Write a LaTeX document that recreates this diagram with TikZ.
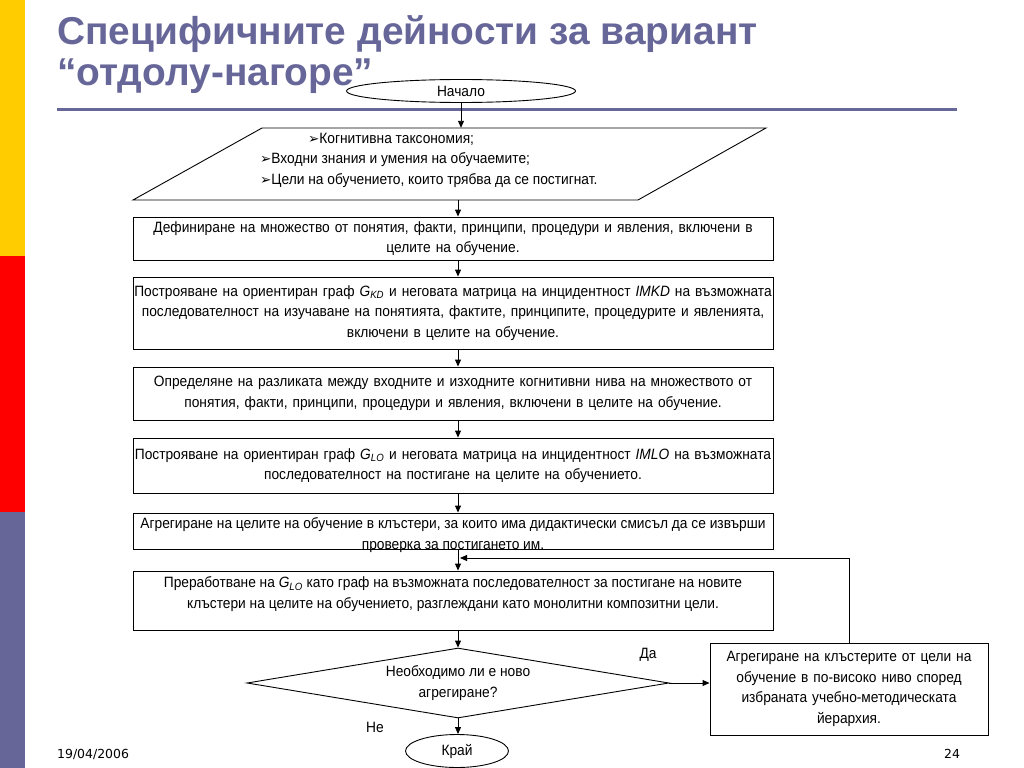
\documentclass[tikz,border=0pt]{standalone}
\usepackage{fontspec}
\setmainfont{Liberation Sans}
\newfontfamily\nar[FakeStretch=0.92]{Liberation Sans}
\newfontfamily\titlef{Liberation Sans}
\newfontfamily\dv{DejaVu Sans}
\usetikzlibrary{shapes.geometric,arrows.meta}
\definecolor{tpurple}{RGB}{102,102,153}
\definecolor{byellow}{RGB}{255,204,0}
\definecolor{bred}{RGB}{255,0,0}
\newcommand{\bul}{{\dv\fontsize{13.5}{13.5}\selectfont ➢}}
\newcommand{\gsub}[1]{\textit{G}\textsubscript{\textit{#1}}}
\begin{document}
\begin{tikzpicture}[x=1bp,y=-1bp,
  body/.style={font=\nar\fontsize{15}{20.5}\selectfont},
  box/.style={draw=black, line width=0.9bp, rectangle, inner sep=0pt, minimum width=640bp, body, align=center, text width=640bp},
  oval/.style={draw=black, line width=0.9bp, ellipse, inner sep=0pt, body},
  arr/.style={line width=0.9bp, -{Triangle[length=7bp,width=6bp]}},
  lbl/.style={body, inner sep=0pt}
]
\useasboundingbox (0,0) rectangle (1024,768);
% left bar
\fill[byellow] (0,0) rectangle (25,256);
\fill[bred] (0,256) rectangle (25,512);
\fill[tpurple] (0,512) rectangle (25,768);
% title
\node[anchor=base west, inner sep=0pt, text=tpurple, font=\titlef\bfseries\fontsize{39}{46}\selectfont] (t1) at (57,45) {Специфичните дейности за вариант};
\node[anchor=base west, inner sep=0pt, text=tpurple, font=\titlef\bfseries\fontsize{39}{46}\selectfont] (t2) at (57,86) {“отдолу-нагоре”};
\draw[tpurple, line width=3bp] (57,109) -- (957,109);
% flow
\node[oval, fill=white, minimum width=229bp, minimum height=23bp] (start) at (461,91) {Начало};
\node[inner sep=0pt, minimum width=500bp, minimum height=72bp] (par) at (458,164) {};
\draw[line width=0.9bp] (262,128) -- (766,128) -- (638,200) -- (133,200) -- cycle;
\node[body, anchor=north west, align=left, inner sep=0pt] (partext) at (260,133) {\hspace*{48bp}\bul Когнитивна таксономия;\\\bul Входни знания и умения на обучаемите;\\\bul Цели на обучението, които трябва да се постигнат.};
\node[box, minimum height=43bp] (b1) at (453,238.5) {Дефиниране на множество от понятия, факти, принципи, процедури и явления, включени в\\целите на обучение.};
\node[box, minimum height=72bp] (b2) at (453,313) {Построяване на ориентиран граф \gsub{KD} и неговата матрица на инцидентност \textit{IMKD} на възможната\\последователност на изучаване на понятията, фактите, принципите, процедурите и явленията,\\включени в целите на обучение.};
\node[box, minimum height=53bp] (b3) at (453,393.5) {Определяне на разликата между входните и изходните когнитивни нива на множеството от\\понятия, факти, принципи, процедури и явления, включени в целите на обучение.};
\node[box, minimum height=55bp] (b4) at (453,465.5) {Построяване на ориентиран граф \gsub{LO} и неговата матрица на инцидентност \textit{IMLO} на възможната\\последователност на постигане на целите на обучението.};
\node[box, minimum height=36bp] (b5) at (453,531) {};
\node[body, align=center, inner sep=0pt] (b5text) at (453,535) {Агрегиране на целите на обучение в клъстери, за които има дидактически смисъл да се извърши\\проверка за постигането им.};
\node[box, minimum height=59bp] (b6) at (453,600.5) {};
\node[body, align=center, inner sep=0pt] (b6text) at (453,594) {Преработване на \gsub{LO} като граф на възможната последователност за постигане на новите\\клъстери на целите на обучението, разглеждани като монолитни композитни цели.};
\node[diamond, aspect=6, draw=black, line width=0.9bp, inner sep=0pt, minimum width=422bp, minimum height=70bp, body, align=center] (dec) at (458,683) {Необходимо ли е ново\\агрегиране?};
\node[box, minimum width=278bp, text width=272bp, minimum height=92bp] (rb) at (849,689) {Агрегиране на клъстерите от цели на\\обучение в по-високо ниво според\\избраната учебно-методическата\\йерархия.};
\node[oval, minimum width=103bp, minimum height=33bp] (end) at (457,751) {Край};
\coordinate (fb) at (460,558);
% connectors
\draw[arr] (start.south) -- (start.south |- par.north);
\draw[arr] (par.south) -- (par.south |- b1.north);
\draw[arr] (par.south |- b1.south) -- (par.south |- b2.north);
\draw[arr] (par.south |- b2.south) -- (par.south |- b3.north);
\draw[arr] (par.south |- b3.south) -- (par.south |- b4.north);
\draw[arr] (par.south |- b4.south) -- (par.south |- b5.north);
\draw[arr] (par.south |- b5.south) -- (par.south |- b6.north);
\draw[arr] (par.south |- b6.south) -- (dec.north);
\draw[arr] (dec.east) -- (dec.east -| rb.west);
\draw[arr] (dec.south) -- (dec.south |- end.north);
\draw[arr] (rb.north) |- (fb);
\node[lbl] (yes) at (648,655) {Да};
\node[lbl] (no) at (375,727) {Не};
% footer
\node[anchor=base west, inner sep=0pt, font=\dv\fontsize{12.5}{14}\selectfont] (date) at (57,758) {19/04/2006};
\node[anchor=base west, inner sep=0pt, font=\dv\fontsize{12.5}{14}\selectfont] (pg) at (944,758) {24};
\end{tikzpicture}
\end{document}
